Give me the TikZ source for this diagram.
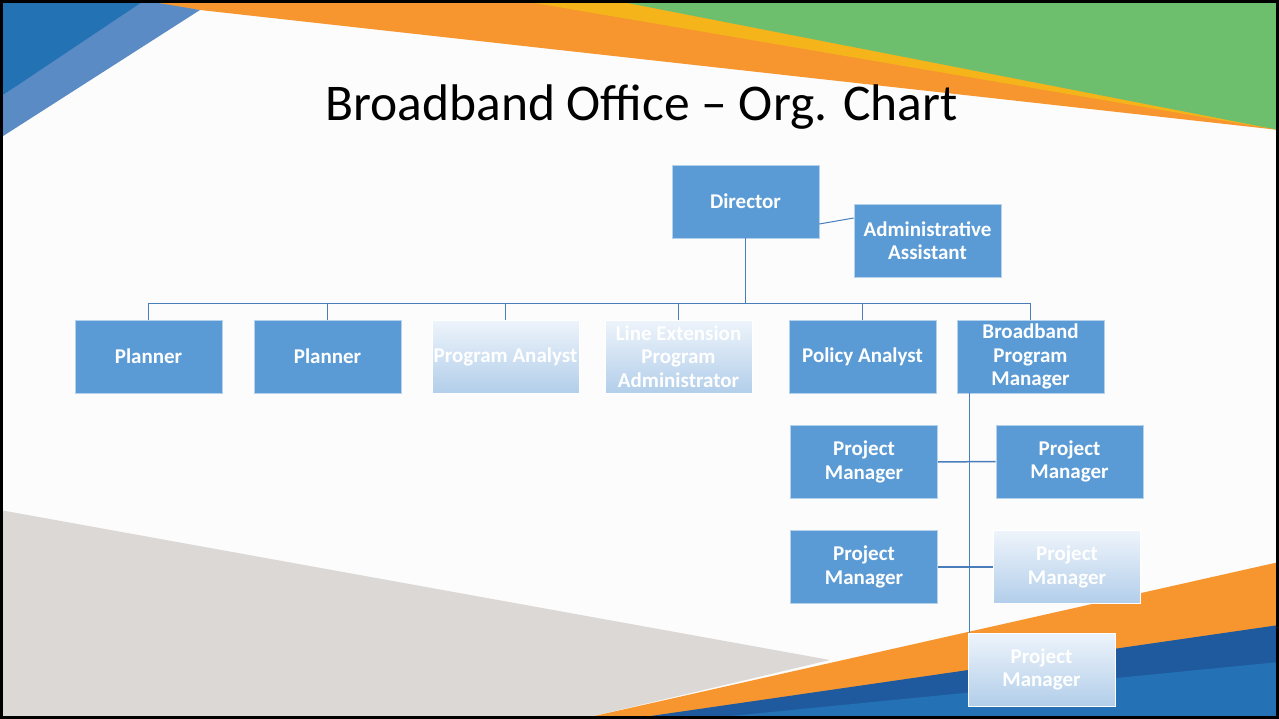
\documentclass[tikz,border=0pt]{standalone}
\usepackage{fontspec}
\setmainfont{Carlito}
\usetikzlibrary{calc}
\definecolor{boxblue}{HTML}{5B9BD5}
\definecolor{connblue}{HTML}{4A7EBB}
\definecolor{fadetop}{HTML}{EEF4FB}
\definecolor{fadebot}{HTML}{B2CEEA}
\definecolor{tlblue}{HTML}{2272B4}
\definecolor{tllight}{HTML}{5B8BC5}
\definecolor{bgorange}{HTML}{F7962F}
\definecolor{bgyellow}{HTML}{F4B41A}
\definecolor{bggreen}{HTML}{6DBE6D}
\definecolor{bggray}{HTML}{DCD8D5}
\definecolor{brdark}{HTML}{1F5A9E}
\definecolor{brlight}{HTML}{2471B5}
\begin{document}
\begin{tikzpicture}[x=1pt,y=-1pt,
  solidbox/.style={rectangle, fill=boxblue, draw=white!55!boxblue, line width=0.6pt,
    minimum width=147pt, minimum height=73pt, inner sep=0pt, align=center,
    text=white, font=\bfseries\fontsize{21}{23.5}\selectfont},
  fadebox/.style={solidbox, top color=fadetop, bottom color=fadebot, draw=white},
  conn/.style={draw=connblue, line width=1.5pt}]
\useasboundingbox (0,0) rectangle (1279,719);
\fill[white!99!black] (0,0) rectangle (1279,719);
% top background bands
\fill[bgorange] (110,0) -- (1279,0) -- (1279,130) -- (200,10) -- cycle;
\fill[bgyellow] (517,0) -- (1279,0) -- (1279,130) -- cycle;
\fill[bggreen] (612,0) -- (1279,0) -- (1279,130) -- cycle;
\fill[tllight] (140,0) -- (200,10) -- (0,138) -- (0,97) -- cycle;
\fill[tlblue] (0,0) -- (145,0) -- (0,97) -- cycle;
% bottom background bands
\fill[bggray] (0,510) -- (830,660) -- (581,719) -- (0,719) -- cycle;
\fill[bgorange] (581,719) -- (1279,562) -- (1279,719) -- cycle;
\fill[brdark] (630,719) -- (1279,625) -- (1279,719) -- cycle;
\fill[brlight] (700,719) -- (1279,662) -- (1279,719) -- cycle;
% title
\node[font=\fontsize{51.5}{56}\selectfont, anchor=base] (title) at (641.5,121) {Broadband Office – Org. Chart};
% boxes
\node[solidbox] (dir) at (745.5,201.5) {Director};
\node[solidbox] (adm) at (927.5,240.5) {Administrative\\Assistant};
\node[solidbox] (pl1) at (148.5,356.5) {Planner};
\node[solidbox] (pl2) at (327.5,356.5) {Planner};
\node[fadebox] (pa) at (505.5,356.5) {Program Analyst};
\node[fadebox] (lep) at (678.5,356.5) {Line Extension\\Program\\Administrator};
\node[solidbox] (pol) at (862.5,356.5) {Policy Analyst};
\node[solidbox] (bpm) at (1030.5,356.5) {Broadband\\Program\\Manager};
\node[solidbox] (pm1) at (864,462) {Project\\Manager};
\node[solidbox] (pm2) at (1069.5,461.5) {Project\\Manager};
\node[solidbox] (pm3) at (864,567) {Project\\Manager};
\node[fadebox] (pm4) at (1067,567) {Project\\Manager};
\node[fadebox] (pm5) at (1041.5,669.5) {Project\\Manager};
% connectors
\coordinate (bus) at ($(dir.south)+(0,65)$);
\draw[conn] (dir.south) -- (bus);
\foreach \c in {pl1,pl2,pa,lep,pol,bpm} \draw[conn] (\c.north) |- (bus);
\draw[conn, line width=1pt] ([yshift=-22.5pt]dir.east) -- ([yshift=22.5pt]adm.west);
\coordinate (trunk) at ($(bpm.south west)+(13,0)$);
\draw[conn] (trunk) -- (trunk |- pm5.north);
\draw[conn] (pm1.east) -- (pm2.west);
\draw[conn] (pm3.east) -- (pm4.west);
% frame
\draw[line width=3pt] (1.5,1.5) rectangle (1277.5,717.5);
\end{tikzpicture}
\end{document}
